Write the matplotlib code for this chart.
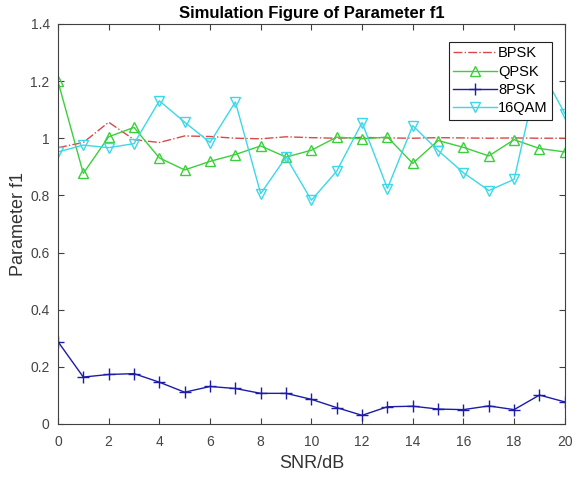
import numpy as np
import matplotlib
matplotlib.use('Agg')
import matplotlib.pyplot as plt

plt.rcParams['font.family'] = ['Liberation Sans', 'DejaVu Sans']

snr = np.arange(0, 21)
bpsk = [0.967, 0.985, 1.056, 0.995, 0.985, 1.008, 1.006, 1.0, 0.998, 1.005,
        1.002, 1.0, 1.003, 1.001, 1.0, 1.002, 1.001, 1.0, 1.001, 1.0, 1.0]
qpsk = [1.199, 0.877, 1.005, 1.038, 0.931, 0.889, 0.919, 0.943, 0.973, 0.934,
        0.958, 1.004, 0.998, 1.004, 0.912, 0.992, 0.968, 0.938, 0.995, 0.964, 0.952]
psk8 = [0.288, 0.164, 0.173, 0.176, 0.146, 0.111, 0.131, 0.124, 0.107, 0.107,
        0.086, 0.057, 0.030, 0.060, 0.062, 0.052, 0.050, 0.063, 0.050, 0.101, 0.077]
qam16 = [0.952, 0.976, 0.967, 0.981, 1.131, 1.056, 0.985, 1.127, 0.806, 0.934,
         0.783, 0.885, 1.055, 0.824, 1.044, 0.957, 0.879, 0.817, 0.856, 1.25, 1.086]

fig = plt.figure(figsize=(5.74, 4.79), dpi=100)
ax = fig.add_axes([0.101, 0.115, 0.883, 0.835])

ax.plot(snr, bpsk, '-.', color='#d84a4a', lw=1.0, label='BPSK')
ax.plot(snr, qpsk, '-', color='#3ccf3c', lw=1.0, marker='^', ms=7,
        mfc='none', mew=1.0, label='QPSK')
ax.plot(snr, psk8, '-', color='#1c1ca8', lw=1.0, marker='+', ms=8,
        mew=1.0, label='8PSK')
ax.plot(snr, qam16, '-', color='#3cd8e8', lw=1.0, marker='v', ms=7,
        mfc='none', mew=1.0, label='16QAM')

ax.set_xlim(0, 20)
ax.set_ylim(0, 1.4)
ax.set_xticks(np.arange(0, 21, 2))
ax.set_yticks([0, 0.2, 0.4, 0.6, 0.8, 1.0, 1.2, 1.4])
ax.set_yticklabels(['0', '0.2', '0.4', '0.6', '0.8', '1', '1.2', '1.4'])
ax.tick_params(direction='in', top=True, right=True, length=4,
               colors='#404040', labelsize=10, labelcolor='#444444')
ax.tick_params(axis='x', pad=8)
ax.tick_params(axis='y', pad=6)
for s in ax.spines.values():
    s.set_color('#404040')
    s.set_linewidth(0.8)

ax.set_xlabel('SNR/dB', fontsize=13, color='#333333', labelpad=4)
ax.set_ylabel('Parameter f1', fontsize=13, color='#333333', labelpad=2)
ax.set_title('Simulation Figure of Parameter f1', fontsize=12, fontweight='bold', pad=4)

leg = ax.legend(loc='upper right', bbox_to_anchor=(0.975, 0.955), fontsize=10.5,
                frameon=True, fancybox=False, edgecolor='#222222', framealpha=1,
                handlelength=3.0, handletextpad=0.1, borderpad=0.3, labelspacing=0.3,
                borderaxespad=0)
leg.get_frame().set_linewidth(0.8)

fig.savefig('out.png', dpi=100)
